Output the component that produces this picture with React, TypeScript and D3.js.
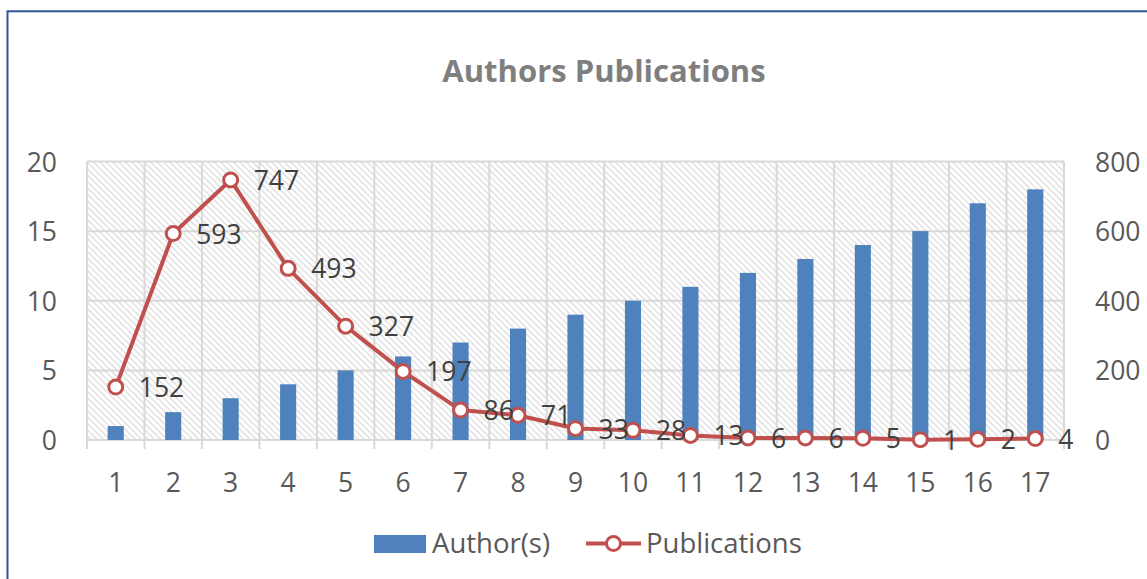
import React from "react";
import * as d3 from "d3";

const categories = ["1","2","3","4","5","6","7","8","9","10","11","12","13","14","15","16","17"];
const authors = [1,2,3,4,5,6,7,8,9,10,11,12,13,14,15,17,18];
const publications = [152,593,747,493,327,197,86,71,33,28,13,6,6,5,1,2,4];
const leftTicks = [0,5,10,15,20];
const rightTicks = [0,200,400,600,800];

const W = 1147, H = 579;
const plot = { left: 87, right: 1064, top: 161.5, bottom: 440 };
const FONT = "'Open Sans', 'Liberation Sans', sans-serif";

export default function App() {
  const x = d3.scaleBand<string>().domain(categories).range([plot.left, plot.right]).paddingInner(0).paddingOuter(0);
  const yL = d3.scaleLinear().domain([0, 20]).range([plot.bottom, plot.top]);
  const yR = d3.scaleLinear().domain([0, 800]).range([plot.bottom, plot.top]);
  const bw = x.bandwidth();
  const barW = bw * 0.28;
  const cx = (c: string) => (x(c) as number) + bw / 2;
  const line = d3.line<number>().x((_, i) => cx(categories[i])).y((d) => yR(d));
  const grid = "#d9d9d9";

  return (
    <svg width={W} height={H} style={{ position: "absolute", left: 0, top: 0 }} fontFamily={FONT}>
      <defs>
        <pattern id="hatch" patternUnits="userSpaceOnUse" width="4.5" height="4.5" patternTransform="rotate(-45)">
          <rect width="4.5" height="4.5" fill="#ffffff" />
          <line x1="1" y1="0" x2="1" y2="4.5" stroke="#d9d9d9" strokeWidth="1.2" />
        </pattern>
      </defs>
      <rect x={0} y={0} width={W} height={H} fill="#ffffff" />
      <rect x={7.5} y={11.3} width={W + 10} height={H + 10} fill="none" stroke="#2f5597" strokeWidth={2} />
      <text x={604} y={82} textAnchor="middle" fontWeight="bold" fontSize={31} fill="#7f7f7f">Authors Publications</text>

      <rect x={plot.left} y={plot.top} width={plot.right - plot.left} height={plot.bottom - plot.top} fill="url(#hatch)" />
      {leftTicks.map((t) => (
        <line key={"h" + t} x1={plot.left} x2={plot.right} y1={yL(t)} y2={yL(t)} stroke={grid} strokeWidth={2} />
      ))}
      {categories.map((c) => (
        <line key={"v" + c} x1={x(c) as number} x2={x(c) as number} y1={plot.top} y2={plot.bottom + 9} stroke={grid} strokeWidth={2} />
      ))}
      <line x1={plot.right} x2={plot.right} y1={plot.top} y2={plot.bottom + 9} stroke={grid} strokeWidth={2} />

      {authors.map((v, i) => (
        <rect key={"b" + i} x={cx(categories[i]) - barW / 2} y={yL(v)} width={barW} height={plot.bottom - yL(v)} fill="#4f81bd" />
      ))}

      <path d={line(publications) || ""} fill="none" stroke="#c0504d" strokeWidth={4} strokeLinejoin="round" />
      {publications.map((v, i) => (
        <circle key={"m" + i} cx={cx(categories[i])} cy={yR(v)} r={7} fill="#ffffff" stroke="#c0504d" strokeWidth={3} />
      ))}
      {publications.map((v, i) => (
        <text key={"l" + i} x={cx(categories[i]) + 23} y={yR(v) + 10} fontSize={26.5} fill="#404040">{v}</text>
      ))}

      {leftTicks.map((t) => (
        <text key={"lt" + t} x={57} y={yL(t) + 10} textAnchor="end" fontSize={26.5} fill="#595959">{t}</text>
      ))}
      {rightTicks.map((t) => (
        <text key={"rt" + t} x={1095} y={yR(t) + 10} textAnchor="start" fontSize={26.5} fill="#595959">{t}</text>
      ))}
      {categories.map((c) => (
        <text key={"xt" + c} x={cx(c)} y={492} textAnchor="middle" fontSize={26.5} fill="#595959">{c}</text>
      ))}

      <rect x={374} y={535} width={52} height={18} fill="#4f81bd" />
      <text x={432} y={553} fontSize={27.5} fill="#595959">Author(s)</text>
      <line x1={586} x2={641} y1={543.5} y2={543.5} stroke="#c0504d" strokeWidth={4} />
      <circle cx={613.5} cy={543.5} r={7} fill="#ffffff" stroke="#c0504d" strokeWidth={3} />
      <text x={646} y={553} fontSize={27.5} fill="#595959">Publications</text>
    </svg>
  );
}
